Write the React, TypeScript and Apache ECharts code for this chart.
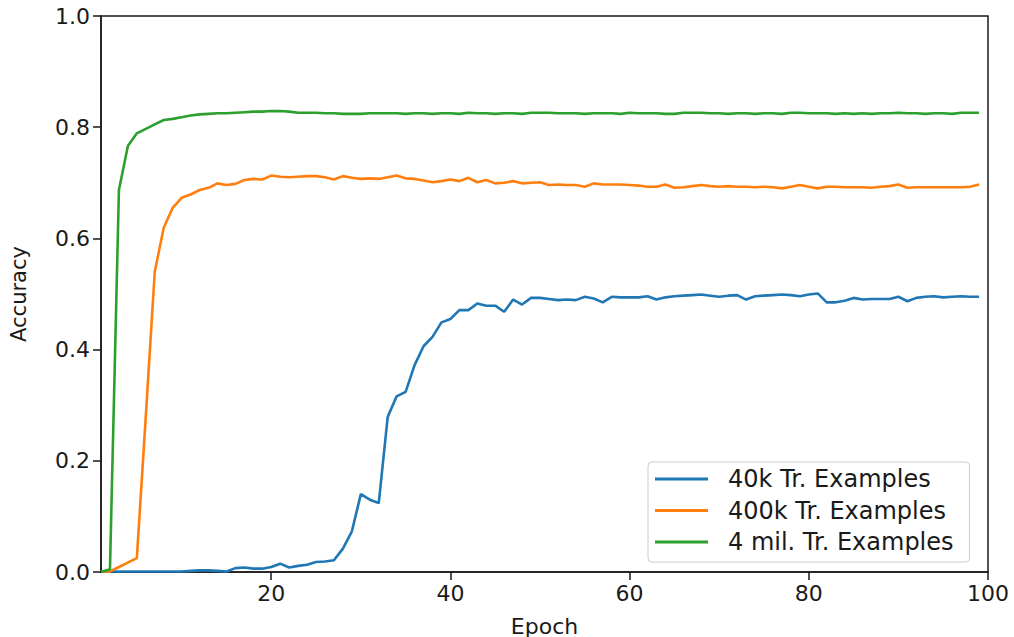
import React, { useEffect, useRef } from "react";
import * as echarts from "echarts";

// Training epochs 1..99
const epochs: number[] = Array.from({ length: 99 }, (_, i) => i + 1);

const seriesNames = ["40k Tr. Examples", "400k Tr. Examples", "4 mil. Tr. Examples"];
const seriesColors = ["#1f77b4", "#ff7f0e", "#2ca02c"];

const acc40k: number[] = [
  0.001, 0.001, 0.001, 0.001, 0.001, 0.001, 0.001, 0.001, 0.001, 0.001,
  0.002, 0.003, 0.003, 0.002, 0.001, 0.007, 0.008, 0.006, 0.006, 0.009,
  0.015, 0.008, 0.011, 0.013, 0.018, 0.019, 0.021, 0.042, 0.073, 0.14,
  0.13, 0.124, 0.279, 0.316, 0.324, 0.372, 0.406, 0.423, 0.449, 0.455,
  0.471, 0.471, 0.483, 0.479, 0.479, 0.468, 0.49, 0.481, 0.493, 0.493,
  0.491, 0.489, 0.49, 0.489, 0.495, 0.492, 0.485, 0.495, 0.494, 0.494,
  0.494, 0.496, 0.49, 0.494, 0.496, 0.497, 0.498, 0.499, 0.497, 0.495,
  0.497, 0.498, 0.49, 0.496, 0.497, 0.498, 0.499, 0.498, 0.496, 0.499,
  0.501, 0.485, 0.485, 0.488, 0.493, 0.49, 0.491, 0.491, 0.491, 0.495,
  0.487, 0.493, 0.495, 0.496, 0.494, 0.495, 0.496, 0.495, 0.495,
];

const acc400k: number[] = [
  0.0, 0.001, 0.009, 0.017, 0.025, 0.28, 0.54, 0.619, 0.655, 0.673,
  0.679, 0.687, 0.691, 0.699, 0.696, 0.698, 0.705, 0.707, 0.706, 0.713,
  0.711, 0.71, 0.711, 0.712, 0.712, 0.71, 0.706, 0.712, 0.709, 0.707,
  0.708, 0.707, 0.71, 0.713, 0.708, 0.707, 0.704, 0.701, 0.703, 0.706,
  0.703, 0.709, 0.701, 0.705, 0.699, 0.7, 0.703, 0.699, 0.7, 0.701,
  0.696, 0.697, 0.696, 0.696, 0.693, 0.699, 0.697, 0.697, 0.697, 0.696,
  0.695, 0.693, 0.693, 0.697, 0.691, 0.692, 0.694, 0.696, 0.694, 0.693,
  0.694, 0.693, 0.693, 0.692, 0.693, 0.692, 0.69, 0.693, 0.696, 0.693,
  0.69, 0.693, 0.693, 0.692, 0.692, 0.692, 0.691, 0.693, 0.694, 0.697,
  0.691, 0.692, 0.692, 0.692, 0.692, 0.692, 0.692, 0.693, 0.697,
];

const acc4mil: number[] = [
  0.0, 0.005, 0.687, 0.766, 0.789, 0.797, 0.805, 0.813, 0.815, 0.818,
  0.821, 0.823, 0.824, 0.825, 0.825, 0.826, 0.827, 0.828, 0.828, 0.829,
  0.829, 0.828, 0.826, 0.826, 0.826, 0.825, 0.825, 0.824, 0.824, 0.824,
  0.825, 0.825, 0.825, 0.825, 0.824, 0.825, 0.825, 0.824, 0.825, 0.825,
  0.824, 0.826, 0.825, 0.825, 0.824, 0.825, 0.825, 0.824, 0.826, 0.826,
  0.826, 0.825, 0.825, 0.825, 0.824, 0.825, 0.825, 0.825, 0.824, 0.826,
  0.825, 0.825, 0.825, 0.824, 0.824, 0.826, 0.826, 0.826, 0.825, 0.825,
  0.824, 0.825, 0.825, 0.824, 0.825, 0.825, 0.824, 0.826, 0.826, 0.825,
  0.825, 0.825, 0.824, 0.825, 0.824, 0.825, 0.824, 0.825, 0.825, 0.826,
  0.825, 0.825, 0.824, 0.825, 0.825, 0.824, 0.826, 0.826, 0.826,
];

const xTicks = [20, 40, 60, 80, 100];

const FONT = "DejaVu Sans";
const INK = "#1a1a1a";

export default function App() {
  const ref = useRef<HTMLDivElement>(null);

  useEffect(() => {
    if (!ref.current) return;
    const chart = echarts.init(ref.current, undefined, { renderer: "svg" });
    const all = [acc40k, acc400k, acc4mil];

    chart.setOption({
      animation: false,
      backgroundColor: "#ffffff",
      grid: {
        left: 101,
        right: 26,
        top: 16,
        bottom: 65,
        containLabel: false,
        outerBoundsMode: "none",
        show: true,
        borderColor: INK,
        borderWidth: 1.5,
        backgroundColor: "transparent",
      },
      xAxis: {
        type: "value",
        min: 1,
        max: 100,
        name: "Epoch",
        nameLocation: "middle",
        nameGap: 43,
        nameTextStyle: { fontFamily: FONT, fontSize: 22, color: INK },
        axisLine: { show: true, lineStyle: { color: INK, width: 1.5 } },
        axisTick: {
          show: true,
          inside: false,
          length: 8,
          customValues: xTicks,
          lineStyle: { color: INK, width: 1.5 },
        },
        axisLabel: {
          customValues: xTicks,
          fontFamily: FONT,
          fontSize: 22,
          color: INK,
          margin: 10,
        },
        splitLine: { show: false },
      },
      yAxis: {
        type: "value",
        min: 0,
        max: 1,
        interval: 0.2,
        name: "Accuracy",
        nameLocation: "middle",
        nameGap: 72,
        nameRotate: 90,
        nameTextStyle: { fontFamily: FONT, fontSize: 21, color: INK },
        axisLine: { show: true, lineStyle: { color: INK, width: 1.5 } },
        axisTick: { show: true, inside: false, length: 8, lineStyle: { color: INK, width: 1.5 } },
        axisLabel: {
          fontFamily: FONT,
          fontSize: 22,
          color: INK,
          margin: 11,
          formatter: (v: number) => v.toFixed(1),
        },
        splitLine: { show: false },
      },
      legend: {
        orient: "vertical",
        left: 648,
        top: 462,
        padding: [5, 16, 8, 7],
        itemGap: 7.5,
        itemWidth: 53,
        itemHeight: 3,
        borderColor: "#cccccc",
        borderWidth: 1,
        borderRadius: 4,
        backgroundColor: "rgba(255,255,255,0.8)",
        textStyle: {
          fontFamily: FONT,
          fontSize: 24,
          color: INK,
          padding: [0, 0, 0, 15],
        },
        data: seriesNames.map((n) => ({ name: n, icon: "rect" })),
      },
      series: seriesNames.map((name, s) => ({
        name,
        type: "line",
        symbol: "none",
        color: seriesColors[s],
        lineStyle: { width: 2.6, color: seriesColors[s] },
        itemStyle: { color: seriesColors[s] },
        data: epochs.map((e, i) => [e, all[s][i]]),
      })),
    });

    return () => chart.dispose();
  }, []);

  return (
    <div
      ref={ref}
      style={{ position: "fixed", left: 0, top: 0, width: 1014, height: 637, background: "#fff" }}
    />
  );
}
